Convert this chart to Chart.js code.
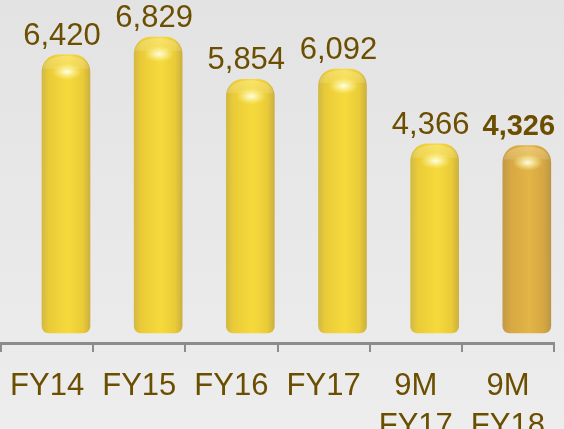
<!DOCTYPE html>
<html>
<head>
<meta charset="utf-8">
<script src="https://cdn.jsdelivr.net/npm/chart.js@4/dist/chart.umd.min.js"></script>
<style>
  html, body { margin: 0; padding: 0; overflow: hidden; }
  body { background: linear-gradient(#e3e3e3, #ededed); }
  #wrap { width: 564px; height: 429px; position: relative; }
</style>
</head>
<body>
<div id="wrap"><canvas id="chart"></canvas></div>
<script>
// data
const categories = [['FY14'], ['FY15'], ['FY16'], ['FY17'], ['9M', 'FY17'], ['9M', 'FY18']];
const revenue = [6420, 6829, 5854, 6092, 4366, 4326];
const boldIndex = 5; // latest period, darker bar + bold label

const textColor = '#6b4e00';
const axisColor = '#8c8c8c';

// horizontal shading so each bar looks like a cylinder
function barFill(context) {
  const chart = context.chart;
  const scale = chart.scales.xb;
  const dark = context.dataIndex === boldIndex;
  const flat = dark ? '#dcab44' : '#f2d33c';
  if (!scale || context.dataIndex === undefined) return flat;
  const cx = scale.getPixelForValue(context.dataIndex);
  if (!isFinite(cx)) return flat;
  const g = chart.ctx.createLinearGradient(cx - 24, 0, cx + 24, 0);
  if (dark) {
    g.addColorStop(0, '#c29a48');
    g.addColorStop(0.18, '#d8a842');
    g.addColorStop(0.55, '#e3b446');
    g.addColorStop(0.85, '#d6a742');
    g.addColorStop(1, '#bd9645');
  } else {
    g.addColorStop(0, '#d2ba44');
    g.addColorStop(0.15, '#eacb38');
    g.addColorStop(0.55, '#f6da3c');
    g.addColorStop(0.85, '#eacb38');
    g.addColorStop(1, '#ccb040');
  }
  return g;
}

// glossy spot near the dome + value labels
const barDecor = {
  id: 'barDecor',
  afterDatasetsDraw(chart) {
    const ctx = chart.ctx;
    const meta = chart.getDatasetMeta(0);
    meta.data.forEach((el, i) => {
      // top cap tint
      ctx.save();
      const cap = ctx.createLinearGradient(0, el.y, 0, el.y + 26);
      cap.addColorStop(0, 'rgba(255,250,220,0.3)');
      cap.addColorStop(1, 'rgba(255,250,220,0)');
      ctx.fillStyle = cap;
      ctx.beginPath();
      ctx.ellipse(el.x, el.y + 14, el.width / 2 - 1, 13, 0, Math.PI, 0);
      ctx.fill();
      // gloss
      ctx.translate(el.x + 1, el.y + 17);
      ctx.scale(1.4, 0.75);
      const glow = ctx.createRadialGradient(0, 0, 0, 0, 0, 11);
      glow.addColorStop(0, 'rgba(255,255,245,0.95)');
      glow.addColorStop(0.4, 'rgba(255,252,200,0.6)');
      glow.addColorStop(1, 'rgba(255,245,150,0)');
      ctx.fillStyle = glow;
      ctx.beginPath();
      ctx.arc(0, 0, 11, 0, Math.PI * 2);
      ctx.fill();
      ctx.restore();

      // value label
      ctx.save();
      const bold = i === boldIndex;
      ctx.font = (bold ? 'bold 29px' : '31px') + ' "Liberation Sans", Arial, sans-serif';
      ctx.fillStyle = textColor;
      ctx.textAlign = 'center';
      ctx.textBaseline = 'alphabetic';
      ctx.fillText(revenue[i].toLocaleString('en-US'), el.x - (bold ? 8 : 4), el.y - 10);
      ctx.restore();
    });
  }
};

new Chart(document.getElementById('chart'), {
  type: 'bar',
  data: {
    labels: categories,
    datasets: [{
      data: revenue.map((v, i) => ({ x: i, y: v })),
      xAxisID: 'xb',
      backgroundColor: barFill,
      borderWidth: 0,
      borderSkipped: false,
      borderRadius: { topLeft: 17, topRight: 17, bottomLeft: 7, bottomRight: 7 },
      barThickness: 48,
      clip: false
    }]
  },
  options: {
    responsive: true,
    maintainAspectRatio: false,
    animation: false,
    layout: { padding: { left: 1, right: 10, top: 0, bottom: 0 } },
    plugins: {
      legend: { display: false },
      tooltip: { enabled: false }
    },
    scales: {
      x: {
        type: 'category',
        offset: true,
        grid: {
          display: true,
          offset: true,
          drawOnChartArea: false,
          drawTicks: true,
          tickLength: 9,
          color: axisColor,
          lineWidth: 2
        },
        border: { display: true, color: axisColor, width: 3 },
        ticks: {
          color: textColor,
          font: { family: '"Liberation Sans", Arial, sans-serif', size: 31, lineHeight: 1.3 },
          padding: 14,
          maxRotation: 0,
          autoSkip: false
        },
        afterFit: (scale) => {
          scale.height = 86;
          scale.paddingLeft = 0;
          scale.paddingRight = 0;
        }
      },
      xb: { type: 'linear', display: false, offset: false, min: -0.705, max: 5.295 },
      y: { display: false, min: -231, max: 7683 }
    }
  },
  plugins: [barDecor]
});
</script>
</body>
</html>
